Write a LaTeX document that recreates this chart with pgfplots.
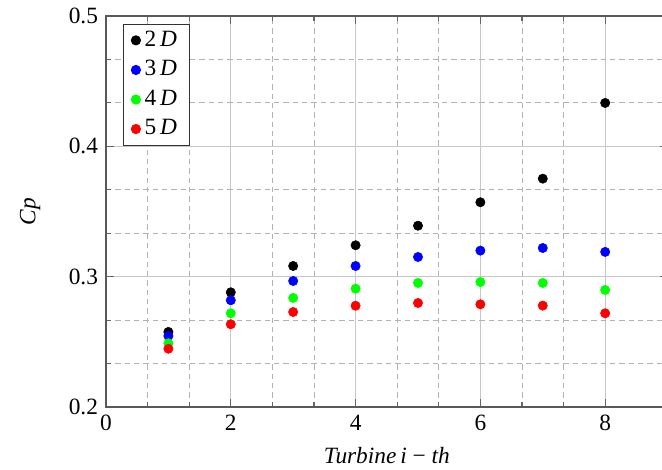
\documentclass[border=0pt]{standalone}
\usepackage{fontspec}
\setmainfont{Liberation Serif}
\usepackage{pgfplots}
\pgfplotsset{compat=1.18}
\begin{document}
\fontsize{17.5}{21}\selectfont
\begin{tikzpicture}
\path[use as bounding box] (-79.5pt,-46.5pt) rectangle (417pt,305.25pt);
\begin{axis}[
  scale only axis, width=421.2pt, height=293.25pt,
  xmin=0, xmax=9, ymin=0.2, ymax=0.5,
  xtick={0,2,4,6,8}, ytick={0.2,0.3,0.4,0.5},
  minor x tick num=2, minor y tick num=2,
  grid=both,
  major grid style={black!22, line width=0.8pt},
  minor grid style={black!30, line width=0.6pt, dash pattern=on 4pt off 3pt},
  tick align=inside,
  major tick length=6pt, minor tick length=4pt,
  every tick/.style={black!60, line width=0.8pt},
  axis line style={black!65, line width=1.1pt},
  /pgf/number format/assume math mode=true,
  ticklabel style={font=\fontsize{17.5}{21}\selectfont},
  y tick label style={/pgf/number format/.cd, fixed, fixed zerofill, precision=1},
  xlabel={\textit{Turbine\,i} − \textit{th}},
  ylabel={\textit{Cp}},
  label style={font=\fontsize{17.5}{21}\selectfont},
  xlabel style={at={(axis description cs:0.5,-0.125)}, anchor=center},
  ylabel style={at={(axis description cs:-0.1353,0.5)}, anchor=center},
  legend style={at={(0.03,0.98)}, anchor=north west, draw=black!80, line width=0.6pt,
    font=\fontsize{17.5}{21}\selectfont, inner xsep=6pt, inner ysep=3pt, row sep=4pt,
    nodes={inner xsep=3pt}},
  legend cell align=left,
  legend image post style={mark size=3.5pt},
]
\addplot[only marks, mark=*, mark size=3.5pt, black] coordinates {
(1,0.2576) (2,0.288) (3,0.3082) (4,0.3241) (5,0.3391) (6,0.3571) (7,0.3752) (8,0.4333)};
\addplot[only marks, mark=*, mark size=3.5pt, blue] coordinates {
(1,0.2545) (2,0.2819) (3,0.2967) (4,0.3082) (5,0.3151) (6,0.320) (7,0.322) (8,0.319)};
\addplot[only marks, mark=*, mark size=3.5pt, green] coordinates {
(1,0.2489) (2,0.2719) (3,0.2837) (4,0.2908) (5,0.2952) (6,0.2959) (7,0.2952) (8,0.2898)};
\addplot[only marks, mark=*, mark size=3.5pt, red] coordinates {
(1,0.2447) (2,0.2635) (3,0.2729) (4,0.2777) (5,0.2798) (6,0.2788) (7,0.2778) (8,0.2719)};
\legend{2\,\textit{D}, 3\,\textit{D}, 4\,\textit{D}, 5\,\textit{D}}
\end{axis}
\end{tikzpicture}
\end{document}
